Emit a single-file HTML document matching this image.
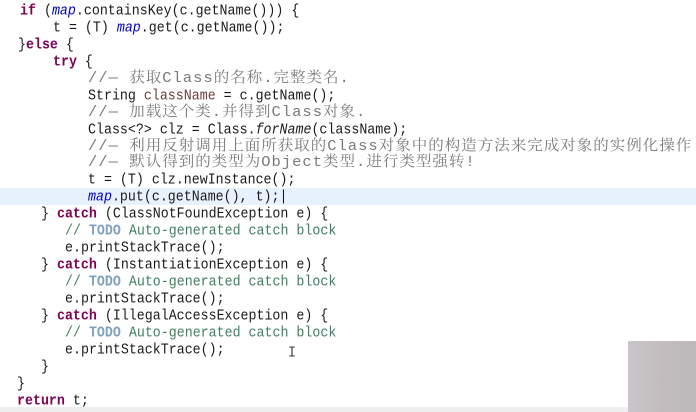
<!DOCTYPE html>
<html><head><meta charset="utf-8"><style>
html,body{margin:0;padding:0;width:696px;height:412px;overflow:hidden;background:#fff;position:relative}
.l{position:absolute;height:17px;line-height:17px;white-space:pre;font-family:"Liberation Mono","Noto Sans CJK SC",monospace;font-size:13.3px;color:#1a1a1a;transform:scaleY(1.12);transform-origin:left center}
.l.cl{transform:scaleY(0.95)}
.k{color:#7f0055;font-weight:bold}
.m{color:#0000c0;font-style:italic}
.c{color:#3f7f5f}
.cz{color:#7a7a7a;font-family:"Liberation Mono","Noto Serif CJK SC",serif;font-size:15.5px;letter-spacing:1px}
.td{color:#7f9fbf;font-weight:bold}
.v{color:#6a3e3e}
.st{font-style:italic}
</style></head><body>
<div style="position:absolute;left:0;top:188px;width:696px;height:17px;background:#e8f2fe"></div>
<div style="position:absolute;left:628px;top:341px;width:68px;height:71px;background:linear-gradient(90deg,#c8c6ca,#c2bcbe 50%,#bdb9ba)"></div>
<div style="position:absolute;left:0;top:407px;width:628px;height:5px;background:#eeeeee"></div>
<div class="l" style="left:20px;top:2px"><span class="k">if</span> (<span class="m">map</span>.containsKey(c.getName())) {</div>
<div class="l" style="left:53px;top:19px">t = (T) <span class="m">map</span>.get(c.getName());</div>
<div class="l" style="left:18px;top:36px">}<span class="k">else</span> {</div>
<div class="l" style="left:53px;top:53px"><span class="k">try</span> {</div>
<div class="l cl" style="left:88px;top:70px"><span class="cz">//— 获取Class的名称.完整类名.</span></div>
<div class="l" style="left:88px;top:87px">String <span class="v">className</span> = c.getName();</div>
<div class="l cl" style="left:88px;top:104px"><span class="cz">//— 加载这个类.并得到Class对象.</span></div>
<div class="l" style="left:88px;top:121px">Class&lt;?&gt; clz = Class.<span class="st">forName</span>(className);</div>
<div class="l cl" style="left:88px;top:138px"><span class="cz">//— 利用反射调用上面所获取的Class对象中的构造方法来完成对象的实例化操作</span></div>
<div class="l cl" style="left:88px;top:154px"><span class="cz">//— 默认得到的类型为Object类型.进行类型强转!</span></div>
<div class="l" style="left:88px;top:171px">t = (T) clz.newInstance();</div>
<div class="l" style="left:88px;top:188px"><span class="m">map</span>.put(c.getName(), t);|</div>
<div class="l" style="left:41px;top:205px">} <span class="k">catch</span> (ClassNotFoundException e) {</div>
<div class="l" style="left:65px;top:222px"><span class="c">// </span><span class="td">TODO</span><span class="c"> Auto-generated catch block</span></div>
<div class="l" style="left:65px;top:239px">e.printStackTrace();</div>
<div class="l" style="left:41px;top:256px">} <span class="k">catch</span> (InstantiationException e) {</div>
<div class="l" style="left:65px;top:273px"><span class="c">// </span><span class="td">TODO</span><span class="c"> Auto-generated catch block</span></div>
<div class="l" style="left:65px;top:290px">e.printStackTrace();</div>
<div class="l" style="left:41px;top:307px">} <span class="k">catch</span> (IllegalAccessException e) {</div>
<div class="l" style="left:65px;top:324px"><span class="c">// </span><span class="td">TODO</span><span class="c"> Auto-generated catch block</span></div>
<div class="l" style="left:65px;top:341px">e.printStackTrace();</div>
<div class="l" style="left:288px;top:344px;color:#444">I</div>
<div class="l" style="left:41px;top:358px">}</div>
<div class="l" style="left:17px;top:375px">}</div>
<div class="l" style="left:17px;top:392px"><span class="k">return</span> t;</div>
</body></html>
